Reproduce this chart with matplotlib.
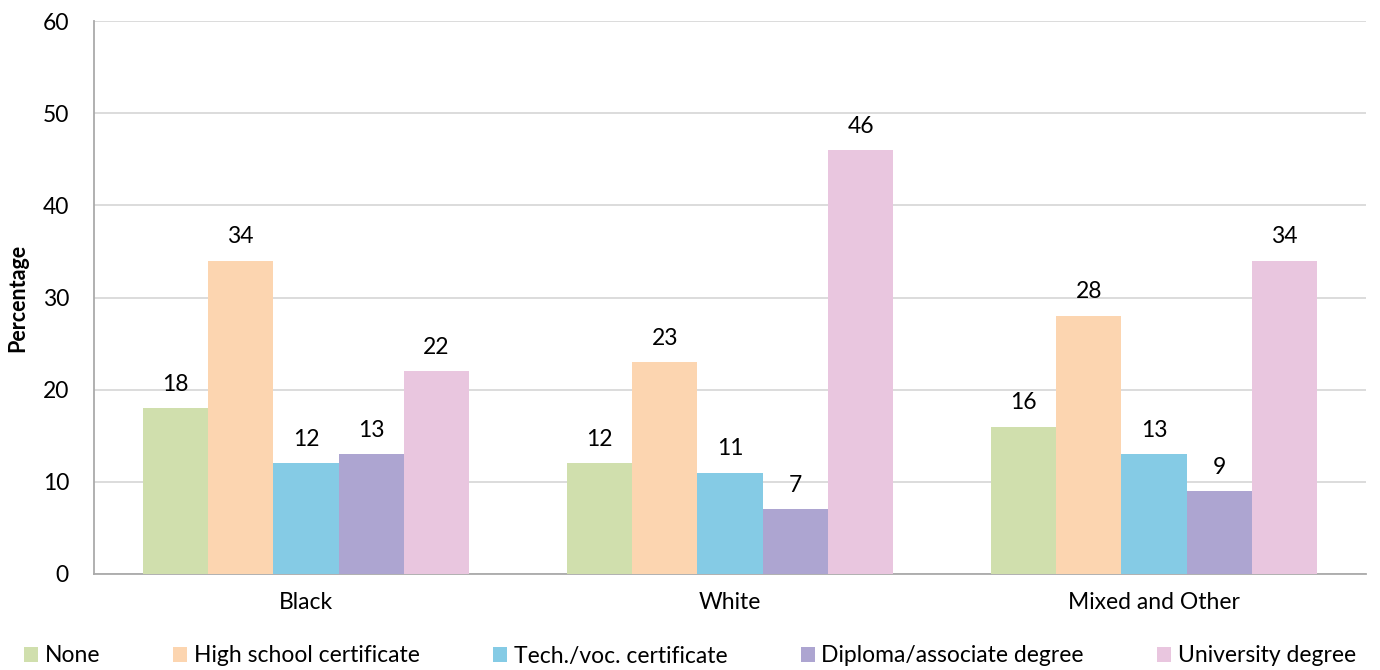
import matplotlib
matplotlib.use("Agg")
import matplotlib.pyplot as plt
import numpy as np

categories = ["Black", "White", "Mixed and Other"]
series_names = ["None", "High school certificate", "Tech./voc. certificate",
                "Diploma/associate degree", "University degree"]
none_vals = [18, 12, 16]
hs_vals = [34, 23, 28]
tech_vals = [12, 11, 13]
dipl_vals = [13, 7, 9]
univ_vals = [22, 46, 34]
values = [none_vals, hs_vals, tech_vals, dipl_vals, univ_vals]
colors = ["#D0DFAD", "#FCD5B0", "#85CBE5", "#ADA5D1", "#E9C6DF"]

plt.rcParams['font.family'] = ['Lato', 'DejaVu Sans']

fig = plt.figure(figsize=(13.8, 6.7), dpi=100)
ax = fig.add_axes([94/1380, 1 - 574/670, (1366-94)/1380, (574-21)/670])

x = np.arange(len(categories))
w = 0.154
for i, (name, vals, c) in enumerate(zip(series_names, values, colors)):
    pos = x + (i - 2) * w
    bars = ax.bar(pos, vals, width=w, color=c, label=name, zorder=3)
    for b, v in zip(bars, vals):
        ax.text(b.get_x() + b.get_width()/2, v + 2.6, f"{v}", ha='center', va='center',
                fontsize=16.5, color='#000000')

ax.set_xlim(-0.5, 2.5)
ax.set_ylim(0, 60)
ax.set_yticks(range(0, 61, 10))
ax.set_xticks(x)
ax.set_xticklabels(categories, fontsize=16.5)
ax.tick_params(axis='y', labelsize=16.5, length=0, pad=18)
ax.tick_params(axis='x', length=0, pad=13)
ax.grid(axis='y', color='#D9D9D9', linewidth=1.3, zorder=0)
for s in ['top', 'right']:
    ax.spines[s].set_visible(False)
for s in ['left', 'bottom']:
    ax.spines[s].set_color('#AAAAAA')
    ax.spines[s].set_linewidth(1.3)
ax.set_ylabel("Percentage", fontsize=15.5, fontweight='bold')
ax.yaxis.set_label_coords(-0.052, 0.5)

leg = fig.legend(loc='center', bbox_to_anchor=(0.5, 1 - 656/670), ncol=5, frameon=False,
                 fontsize=16.5, handlelength=0.6, handleheight=0.6, handletextpad=0.3,
                 columnspacing=3.2)

fig.savefig("out.png", dpi=100)
